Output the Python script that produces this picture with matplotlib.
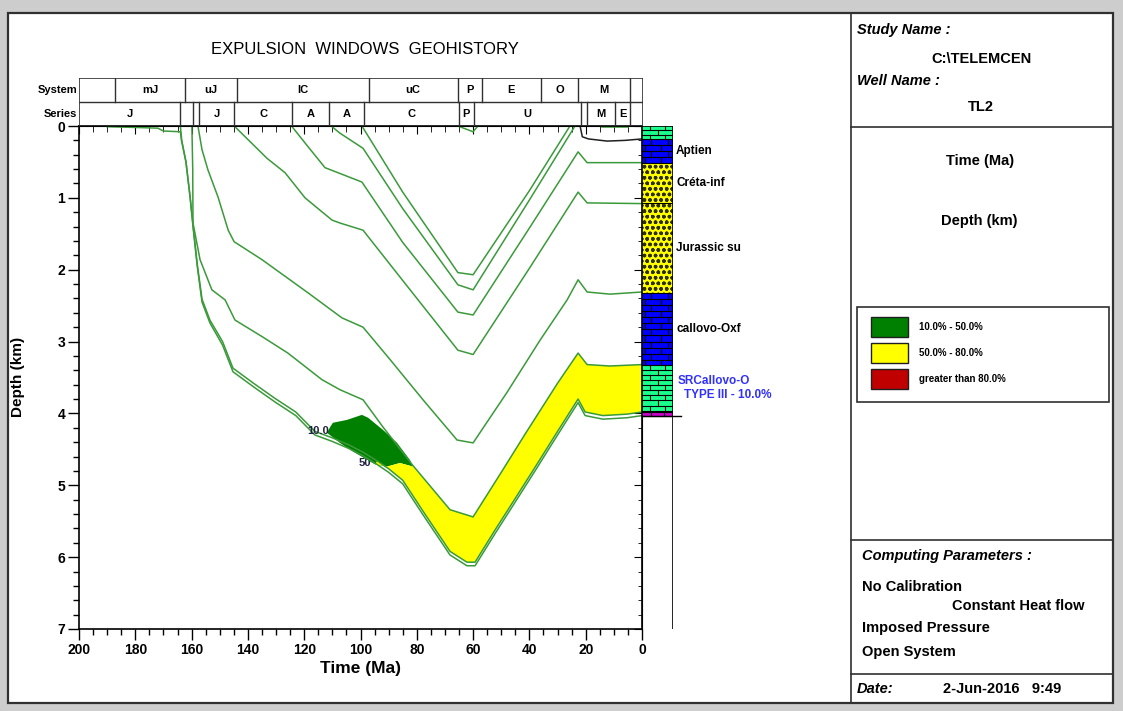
import numpy as np
import matplotlib.pyplot as plt
from matplotlib.patches import Rectangle, Polygon
from matplotlib.ticker import MultipleLocator

plt.rcParams['font.family'] = ['Liberation Sans', 'DejaVu Sans']

W, H = 1123, 711

# chronostratigraphic header (boundaries in Ma)
system_names = ["", "mJ", "uJ", "lC", "uC", "P", "E", "O", "M", ""]
system_bounds = [200, 187.2, 162.3, 143.9, 97.3, 65.7, 57.2, 36.2, 23.1, 4.6, 0]
series_names = ["J", "", "", "J", "C", "A", "A", "C", "P", "U", "", "M", "E", ""]
series_bounds = [200, 164.1, 159.5, 157.4, 145.0, 124.3, 111.2, 99.1, 65.4, 60.0, 22.0, 19.9, 9.9, 4.6, 0]

# burial curves: age (Ma) and depth (km) of each horizon
a2_t = [190, 180, 172, 170, 164, 163.6, 162, 160.5, 159.5, 158, 156.3, 153.5, 149, 145.3, 138, 130.4,
        123, 116.2, 110, 104, 99.1, 94.1, 90, 85, 77.8, 68.2, 62.2, 59.3, 52, 45.8, 38, 31.6, 24.5,
        22.7, 20.2, 13.9, 5.3, 0]
a2_d = [0.01, 0.02, 0.03, 0.07, 0.08, 0.2, 0.5, 1.0, 1.4, 1.95, 2.45, 2.74, 3.05, 3.42, 3.63, 3.84,
        4.03, 4.3, 4.39, 4.49, 4.59, 4.71, 4.82, 4.98, 5.41, 5.97, 6.12, 6.12, 5.66, 5.28, 4.80, 4.40, 3.96,
        3.85, 4.03, 4.08, 4.06, 4.03]

a1_t = [164, 163.5, 162, 160.5, 159.5, 158, 156.3, 153.5, 149, 145.3, 138, 130.4, 123, 116.2, 110,
        104, 99.1, 94.1, 90, 85, 77.8, 68.2, 62.2, 59.3, 52, 45.8, 38, 31.6, 24.5, 22.7, 20.2, 13.9, 5.3, 0]
a1_d = [0.0, 0.2, 0.5, 1.0, 1.38, 1.92, 2.41, 2.70, 3.0, 3.37, 3.58, 3.79, 3.98, 4.25, 4.34,
        4.44, 4.54, 4.66, 4.77, 4.93, 5.36, 5.92, 6.07, 6.07, 5.61, 5.23, 4.75, 4.35, 3.91, 3.80, 3.98, 4.03, 4.01, 3.98]

b_t = [159.9, 159.6, 159.5, 157, 152.8, 148.1, 144.6, 135, 125.8, 113.7, 107.3, 99.1, 92, 81.7, 68.2,
       60, 50, 41.4, 30, 22.7, 19.5, 11.4, 0]
b_d = [0.0, 0.6, 1.35, 1.86, 2.28, 2.42, 2.70, 2.93, 3.16, 3.53, 3.67, 3.81, 4.19, 4.71, 5.34,
       5.44, 4.82, 4.28, 3.58, 3.16, 3.32, 3.34, 3.32]

c_t = [157.7, 156.3, 154.2, 150.6, 147, 144.9, 135, 118.7, 106.6, 99.1, 89.5, 77.8, 65.7, 60, 48,
       36.2, 26.6, 22.7, 19.5, 11.4, 0]
c_d = [0.01, 0.33, 0.61, 0.99, 1.45, 1.61, 1.86, 2.32, 2.67, 2.80, 3.25, 3.81, 4.37, 4.41, 3.71,
       2.98, 2.42, 2.14, 2.31, 2.34, 2.31]

d_t = [144.6, 133.2, 126.8, 119.7, 110.1, 107.3, 99.1, 85, 65.4, 60, 40, 22.7, 19.5, 0]
d_d = [0.01, 0.45, 0.65, 1.00, 1.31, 1.35, 1.45, 2.15, 3.12, 3.18, 1.98, 0.92, 1.07, 1.08]

e_t = [124.3, 118.6, 112.6, 108, 99.5, 85, 65.4, 60, 40, 22.7, 19.5, 0]
e_d = [0.01, 0.29, 0.58, 0.65, 0.78, 1.62, 2.59, 2.63, 1.42, 0.36, 0.51, 0.51]

f_t = [110.1, 107.3, 99.1, 85, 65.4, 60, 40, 23.8]
f_d = [0.01, 0.10, 0.31, 1.15, 2.21, 2.28, 1.03, 0.0]

g_t = [99.5, 85, 65.4, 60, 40, 25.6]
g_d = [0.0, 0.92, 2.04, 2.07, 0.90, 0.0]

# thin surface layers
p_t = [65.4, 60, 58.3]
p_d = [0.0, 0.08, 0.0]
m_t = [22.0, 21.2, 19.0, 12.4, 6.0, 0]
m_d = [0.0, 0.15, 0.18, 0.21, 0.20, 0.18]
s_t = [14.2, 5.0]
s_d = [0.01, 0.01]

# expulsion windows
exp10_t = [110.8, 109.8, 104.8, 99.5, 97.3, 92.0, 87.0, 82.4, 81.3, 86.0, 90.6, 94.8, 102.7, 107.3, 111.9]
exp10_d = [4.19, 4.13, 4.09, 4.02, 4.06, 4.23, 4.41, 4.65, 4.74, 4.69, 4.74, 4.71, 4.53, 4.41, 4.27]
exp50_t = [94.8, 90.6, 86.0, 81.3]
exp50_d = [4.71, 4.74, 4.69, 4.74]

# present-day lithology column
litho_top = [0.0, 0.18, 0.51, 1.07, 2.32, 3.33, 3.98]
litho_base = [0.18, 0.51, 1.07, 2.32, 3.33, 3.98, 4.03]
litho_names = ["", "Aptien", "Créta-inf", "Jurassic su", "callovo-Oxf", "", ""]

legend_labels = ["10.0% - 50.0%", "50.0% - 80.0%", "greater than 80.0%"]
legend_colors = ["#008000", "#ffff00", "#c00000"]


def frac(x0, y0, x1, y1):
    return [x0 / W, 1 - y1 / H, (x1 - x0) / W, (y1 - y0) / H]


fig = plt.figure(figsize=(W / 100, H / 100), dpi=100)
fig.patch.set_facecolor('#cdcdcd')

# page frame and side panel (pixel coordinates)
bg = fig.add_axes([0, 0, 1, 1])
bg.set_xlim(0, W)
bg.set_ylim(H, 0)
bg.axis('off')
bg.add_patch(Rectangle((8, 13), 1105, 690, facecolor='white', edgecolor='#303030', lw=1.6))
bg.plot([851, 851], [13, 703], color='#303030', lw=1.2)
for yy in (127, 540, 674):
    bg.plot([851, 1113], [yy, yy], color='#303030', lw=1.2)

bg.text(365, 50, "EXPULSION  WINDOWS  GEOHISTORY", ha='center', va='center', fontsize=12,
        family=['Liberation Sans Narrow', 'Liberation Sans'])
bg.text(18, 377, "Depth (km)", rotation=90, ha='center', va='center', fontsize=11, fontweight='bold')
bg.text(360, 668, "Time (Ma)", ha='center', va='center', fontsize=12.5, fontweight='bold')
bg.text(77, 90, "System", ha='right', va='center', fontsize=8, fontweight='bold')
bg.text(77, 114, "Series", ha='right', va='center', fontsize=8, fontweight='bold')

bi = dict(fontsize=10.5, fontweight='bold', style='italic', va='center')
bd = dict(fontsize=10.5, fontweight='bold', va='center')
bg.text(857, 30, "Study Name :", **bi)
bg.text(981, 59, "C:\\TELEMCEN", ha='center', **bd)
bg.text(857, 81, "Well Name :", **bi)
bg.text(981, 107, "TL2", ha='center', **bd)
bg.text(980, 161, "Time (Ma)", ha='center', **bd)
bg.text(979, 221, "Depth (km)", ha='center', **bd)
bg.text(862, 556, "Computing Parameters :", **bi)
bg.text(862, 587, "No Calibration", **bd)
bg.text(952, 606, "Constant Heat flow", **bd)
bg.text(862, 628, "Imposed Pressure", **bd)
bg.text(862, 652, "Open System", **bd)
bg.text(857, 689, "Date:", **bi)
bg.text(943, 689, "2-Jun-2016   9:49", **bd)

bg.add_patch(Rectangle((857, 307), 252, 95, facecolor='white', edgecolor='#303030', lw=1.2))
for i, (lab, col) in enumerate(zip(legend_labels, legend_colors)):
    y0 = 317 + i * 26
    bg.add_patch(Rectangle((871, y0), 37, 20, facecolor=col, edgecolor='#202020', lw=1))
    bg.text(919, y0 + 10, lab, fontsize=7, fontweight='bold', va='center')

# main geohistory axes
ax = fig.add_axes(frac(79, 126, 642, 629))
ax.set_xlim(200, 0)
ax.set_ylim(7, 0)

ax.add_patch(Polygon(list(zip(exp10_t, exp10_d)), closed=True, facecolor='#008000', edgecolor='none', zorder=1))
top = [(t, d) for t, d in zip(b_t, b_d) if t < exp50_t[-1]]
bot = [(t, d) for t, d in zip(a1_t, a1_d) if t < exp50_t[0]][::-1]
ax.add_patch(Polygon(list(zip(exp50_t, exp50_d)) + top + bot, closed=True,
                     facecolor='#ffff00', edgecolor='none', zorder=1))

line_kw = dict(color='#3a9a3a', lw=1.1, zorder=2)
for t, d in [(a2_t, a2_d), (a1_t, a1_d), (b_t, b_d), (c_t, c_d), (d_t, d_d),
             (e_t, e_d), (f_t, f_d), (g_t, g_d), (p_t, p_d), (s_t, s_d)]:
    ax.plot(t, d, **line_kw)
ax.plot(m_t, m_d, color='#202020', lw=1.1, zorder=2)

ax.text(115.1, 4.24, "10.0", ha='center', va='center', fontsize=8, fontweight='bold', color='#202040', zorder=3)
ax.text(98.4, 4.69, "50", ha='center', va='center', fontsize=8, fontweight='bold', color='#202040', zorder=0.5)

ax.xaxis.set_major_locator(MultipleLocator(20))
ax.xaxis.set_minor_locator(MultipleLocator(5))
ax.yaxis.set_major_locator(MultipleLocator(1))
ax.yaxis.set_minor_locator(MultipleLocator(0.2))
ax.tick_params(which='major', direction='out', length=8, width=1, labelsize=10, pad=2)
ax.tick_params(which='minor', direction='out', length=4, width=1)
for lab in ax.get_xticklabels() + ax.get_yticklabels():
    lab.set_fontweight('bold')
for sp in ax.spines.values():
    sp.set_linewidth(1.2)

sec_top = ax.secondary_xaxis('top')
sec_top.xaxis.set_major_locator(MultipleLocator(20))
sec_top.xaxis.set_minor_locator(MultipleLocator(5))
sec_top.tick_params(which='major', direction='in', length=6, labeltop=False)
sec_top.tick_params(which='minor', direction='in', length=4)
sec_right = ax.secondary_yaxis('right')
sec_right.yaxis.set_major_locator(MultipleLocator(1))
sec_right.yaxis.set_minor_locator(MultipleLocator(0.2))
sec_right.tick_params(which='major', direction='in', length=6, labelright=False)
sec_right.tick_params(which='minor', direction='in', length=3)

# stratigraphic header rows
hd = fig.add_axes(frac(79, 78, 643, 126))
hd.set_xlim(200, 0)
hd.set_ylim(0, 2)
hd.axis('off')
hd.add_patch(Rectangle((0, 0), 200, 2, fill=False, edgecolor='#303030', lw=1.2))
hd.plot([200, 0], [1, 1], color='#303030', lw=1)
for names, bounds, y0 in [(system_names, system_bounds, 1), (series_names, series_bounds, 0)]:
    for x in bounds[1:-1]:
        hd.plot([x, x], [y0, y0 + 1], color='#303030', lw=1)
    for name, l, r in zip(names, bounds[:-1], bounds[1:]):
        if name:
            hd.text((l + r) / 2, y0 + 0.5, name, ha='center', va='center', fontsize=8, fontweight='bold')

# lithology column at present day
col = fig.add_axes(frac(642, 126, 673, 629))
col.set_xlim(0, 1)
col.set_ylim(7, 0)
col.axis('off')


def bricks(top, base, step, offs, color):
    col.add_patch(Rectangle((0, top), 1, base - top, facecolor=color, edgecolor='none'))
    d, i = top, 0
    while d < base - 1e-6:
        nxt = min(d + step, base)
        col.plot([0, 1], [nxt, nxt], color='k', lw=0.8)
        for x in offs[i % 2]:
            col.plot([x, x], [d, nxt], color='k', lw=0.8)
        d, i = nxt, i + 1


bricks(litho_top[0], litho_base[0], 0.06, [(0.25, 0.75), (0.5,)], '#1aff8c')
bricks(litho_top[1], litho_base[1], 0.085, [(0.3, 0.85), (0.1, 0.6)], '#0000ff')
for k in (2, 3):
    col.add_patch(Rectangle((0, litho_top[k]), 1, litho_base[k] - litho_top[k], facecolor='#ffff00',
                            edgecolor='#303000', hatch='ooo', lw=0))
    col.plot([0, 1], [litho_base[k], litho_base[k]], color='k', lw=0.8)
bricks(litho_top[4], litho_base[4], 0.085, [(0.3, 0.85), (0.1, 0.6)], '#0000ff')
bricks(litho_top[5], litho_base[5], 0.07, [(0.25, 0.75), (0.5,)], '#1aff8c')
bricks(litho_top[6], litho_base[6], 0.05, [(0.3, 0.7), (0.3, 0.7)], '#cc00cc')
col.plot([0, 0, 1, 1], [7, 0, 0, 7], color='k', lw=1.2)
col.plot([0, 1.25], [litho_base[-1], litho_base[-1]], color='k', lw=1, clip_on=False)

for name, t0, t1 in zip(litho_names, litho_top, litho_base):
    if name:
        col.text(1.1, (t0 + t1) / 2, name, ha='left', va='center', fontsize=8.5, fontweight='bold', clip_on=False)
col.text(1.15, 3.55, "SRCallovo-O", ha='left', va='center', fontsize=8.5, fontweight='bold', color='#3030ff')
col.text(1.35, 3.74, "TYPE III - 10.0%", ha='left', va='center', fontsize=8.5, fontweight='bold', color='#3030ff')

fig.savefig('out.png', dpi=100, facecolor=fig.get_facecolor())
